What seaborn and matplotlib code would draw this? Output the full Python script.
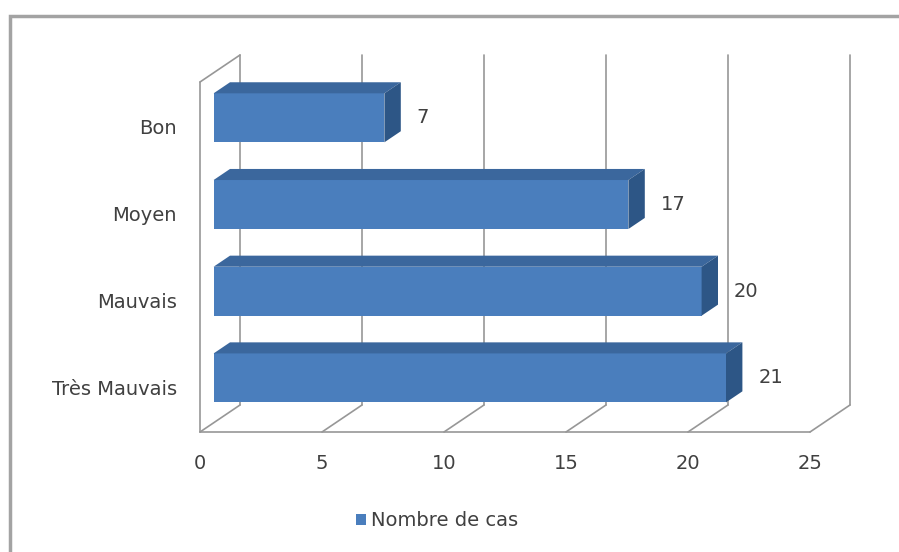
import matplotlib
matplotlib.use("Agg")
import matplotlib.pyplot as plt
from matplotlib.patches import Polygon, Rectangle, Patch
import seaborn as sns

# Data
categories = ["Bon", "Moyen", "Mauvais", "Très Mauvais"]
values = [7, 17, 20, 21]
xticks = [0, 5, 10, 15, 20, 25]
series_name = "Nombre de cas"

# Colours
FRONT = "#4a7ebd"
TOP = "#3b679d"
SIDE = "#2d5686"
GRID = "#979797"
TEXT = "#404040"

sns.set_theme(style="white")
plt.rcParams["font.family"] = ["DejaVu Sans"]
FS = 14

W, H = 899, 552
fig = plt.figure(figsize=(W / 100, H / 100), dpi=100)

# pixel layout of the plotting area
X0, SX = 200.0, 24.4   # value 0 at the floor front, pixels per unit
Y0, SY = 127.0, 86.7   # first category centre, pixels per category
L, R, T, B = 185, 885, 40, 440
ax = fig.add_axes([L / W, 1 - B / H, (R - L) / W, (B - T) / H])

sns.barplot(x=values, y=categories, orient="h", color=FRONT, saturation=1,
            width=0.565, ax=ax, zorder=3, edgecolor="none")

ax.set_xlim((L - X0) / SX, (R - X0) / SX)
ax.set_ylim((B - Y0) / SY, (T - Y0) / SY)

# depth vector of the 3-D box (data units)
DX = 40 / SX
DY = 27 / SY
F1, F2 = 0.34, 0.75           # front / back planes of the bars
C_FLOOR = (432 - Y0) / SY
C_TOP = (82 - Y0) / SY
XMAX = xticks[-1]

gl = dict(color=GRID, lw=1.2, zorder=1, solid_capstyle="round")
# back wall verticals and floor lines
for v in xticks:
    ax.plot([v, v + DX], [C_FLOOR, C_FLOOR - DY], **gl)
    ax.plot([v + DX, v + DX], [C_FLOOR - DY, C_TOP - DY], **gl)
# floor front edge and left wall
ax.plot([0, XMAX], [C_FLOOR, C_FLOOR], **gl)
ax.plot([0, 0], [C_FLOOR, C_TOP], **gl)
ax.plot([0, DX], [C_TOP, C_TOP - DY], **gl)

# turn the flat bars into boxes
dd = F2 - F1
for patch, val in zip(ax.patches, values):
    patch.set_x(patch.get_x() + F1 * DX)
    patch.set_y(patch.get_y() - F1 * DY)
    x0 = patch.get_x()
    x1 = x0 + patch.get_width()
    y0 = patch.get_y()
    h = patch.get_height()
    top = Polygon([(x0, y0), (x1, y0), (x1 + dd * DX, y0 - dd * DY),
                   (x0 + dd * DX, y0 - dd * DY)], closed=True,
                  facecolor=TOP, edgecolor="none", zorder=3)
    side = Polygon([(x1, y0), (x1, y0 + h), (x1 + dd * DX, y0 + h - dd * DY),
                    (x1 + dd * DX, y0 - dd * DY)], closed=True,
                   facecolor=SIDE, edgecolor="none", zorder=3)
    ax.add_patch(top)
    ax.add_patch(side)
    ax.text(x1 + dd * DX + 16 / SX, y0 + h / 2, f"{val}", ha="left",
            va="center", fontsize=FS, color=TEXT, zorder=4)

for s in ax.spines.values():
    s.set_visible(False)
ax.set_xticks(xticks)
ax.set_xticklabels([str(t) for t in xticks])
ax.tick_params(axis="x", length=0, pad=10, labelsize=FS, labelcolor=TEXT)
ax.tick_params(axis="y", length=0, pad=6, labelsize=FS, labelcolor=TEXT)
ax.set_xlabel("")
ax.set_ylabel("")
ax.grid(False)
ax.set_facecolor("none")

# legend
handle = Patch(facecolor=FRONT, edgecolor="none", label=series_name)
fig.legend(handles=[handle], loc="center", bbox_to_anchor=(437 / W, 1 - 521 / H),
           frameon=False, fontsize=FS, handlelength=0.5, handleheight=0.5,
           handletextpad=0.25, labelcolor=TEXT)

# outer chart frame
fig.patches.append(Rectangle((10 / W, -0.05), 1.0, 1 - 16 / H + 0.05,
                             transform=fig.transFigure, fill=False,
                             edgecolor="#a3a3a3", lw=2.5))

fig.savefig("out.png", dpi=100)
